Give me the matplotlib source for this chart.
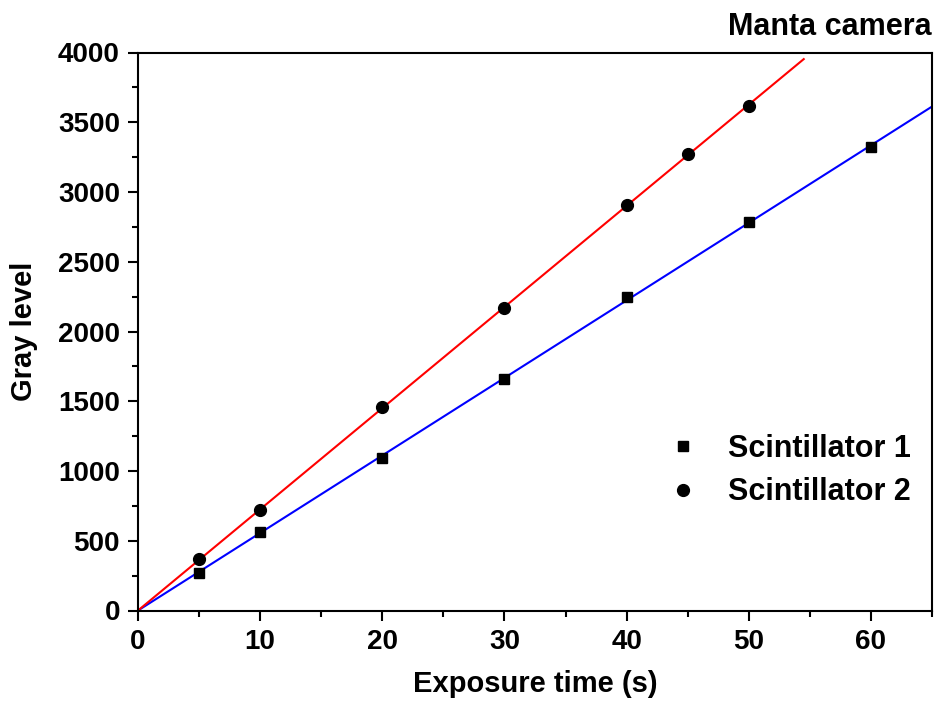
import numpy as np
import matplotlib
matplotlib.use("Agg")
import matplotlib.pyplot as plt
from matplotlib.ticker import MultipleLocator

plt.rcParams['font.family'] = ['Liberation Sans', 'DejaVu Sans']
plt.rcParams['font.weight'] = 'bold'

# data
t1 = [5, 10, 20, 30, 40, 50, 60]
gray1 = [271, 565, 1091, 1660, 2247, 2785, 3323]
t2 = [5, 10, 20, 30, 40, 45, 50]
gray2 = [367, 720, 1459, 2168, 2907, 3272, 3616]
fit_end = [65, 54.5]

fig = plt.figure(figsize=(9.39, 7.06), dpi=100)
ax = fig.add_axes([138/939, 1-610.5/706, (932-138)/939, (610.5-52.5)/706])

# linear fits through the origin
k1 = np.dot(t1, gray1) / np.dot(t1, t1)
k2 = np.dot(t2, gray2) / np.dot(t2, t2)
xf1 = np.array([0, fit_end[0]])
xf2 = np.array([0, fit_end[1]])
ax.plot(xf1, k1 * xf1, color='blue', lw=1.5, zorder=2)
ax.plot(xf2, k2 * xf2, color='red', lw=1.5, zorder=2)

ax.plot(t1, gray1, 's', color='black', ms=7.5, ls='none', label='Scintillator 1', zorder=3)
ax.plot(t2, gray2, 'o', color='black', ms=8.5, ls='none', label='Scintillator 2', zorder=3)

ax.set_xlim(0, 65)
ax.set_ylim(0, 4000)
ax.xaxis.set_major_locator(MultipleLocator(10))
ax.xaxis.set_minor_locator(MultipleLocator(5))
ax.yaxis.set_major_locator(MultipleLocator(500))
ax.yaxis.set_minor_locator(MultipleLocator(250))
ax.tick_params(which='major', direction='out', length=7, width=1.5, labelsize=20, pad=6)
ax.tick_params(which='minor', direction='out', length=4, width=1.5)
for lab in ax.get_xticklabels() + ax.get_yticklabels():
    lab.set_fontweight('bold')
for s in ax.spines.values():
    s.set_linewidth(1.5)

ax.set_xlabel('Exposure time (s)', fontsize=21, fontweight='bold', labelpad=11)
ax.set_ylabel('Gray level', fontsize=21, fontweight='bold', labelpad=14)
ax.text(1.0, 1.031, 'Manta camera', transform=ax.transAxes, ha='right', va='baseline',
        fontsize=22, fontweight='bold')

ax.legend(loc='center left', bbox_to_anchor=(0.6675, 0.251), frameon=False,
          prop={'size': 22, 'weight': 'bold'}, handlelength=1.0, handletextpad=0.95,
          labelspacing=0.45, borderpad=0, borderaxespad=0)

fig.savefig('out.png', dpi=100)
